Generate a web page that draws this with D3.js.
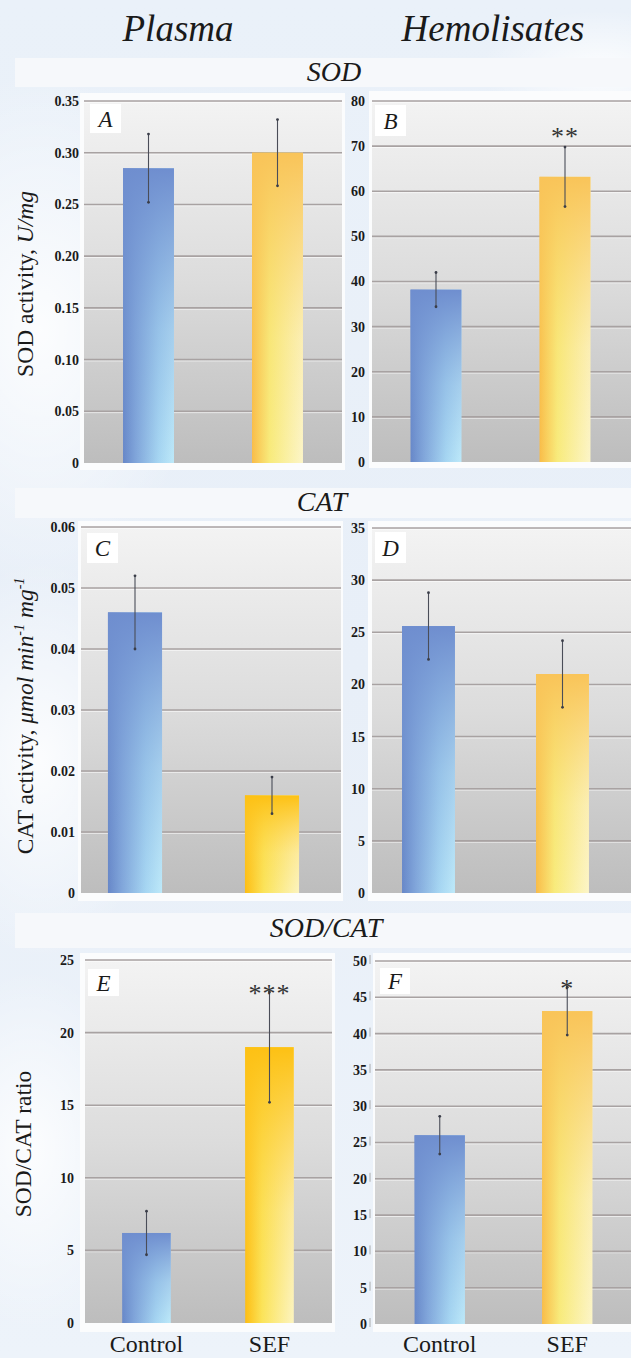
<!DOCTYPE html>
<html>
<head>
<meta charset="utf-8">
<script src="https://cdn.jsdelivr.net/npm/d3@7"></script>
<style>
  html, body { margin: 0; padding: 0; background: #e9f0f8; }
  svg { display: block; }
</style>
</head>
<body>
<svg id="fig" width="631" height="1358"></svg>
<script>
// ---- data -------------------------------------------------------------
const groups = ["Control", "SEF"];
const columnTitles = ["Plasma", "Hemolisates"];
const sectionTitles = ["SOD", "CAT", "SOD/CAT"];
const panelLetters = ["A", "B", "C", "D", "E", "F"];

const sodPlasma = [0.285, 0.300];
const sodPlasmaErr = [0.033, 0.032];
const sodHemo = [38.2, 63.2];
const sodHemoErr = [3.8, 6.6];
const catPlasma = [0.046, 0.016];
const catPlasmaErr = [0.006, 0.003];
const catHemo = [25.6, 21.0];
const catHemoErr = [3.2, 3.2];
const ratioPlasma = [6.2, 19.0];
const ratioPlasmaErr = [1.5, 3.8];
const ratioHemo = [26.0, 43.1];
const ratioHemoErr = [2.6, 3.3];

const sodHemoSig = ["", "**"];
const ratioPlasmaSig = ["", "***"];
const ratioHemoSig = ["", "*"];

const sodPlasmaTicks = [0, 0.05, 0.10, 0.15, 0.20, 0.25, 0.30, 0.35];
const sodHemoTicks = [0, 10, 20, 30, 40, 50, 60, 70, 80];
const catPlasmaTicks = [0, 0.01, 0.02, 0.03, 0.04, 0.05, 0.06];
const catHemoTicks = [0, 5, 10, 15, 20, 25, 30, 35];
const ratioPlasmaTicks = [0, 5, 10, 15, 20, 25];
const ratioHemoTicks = [0, 5, 10, 15, 20, 25, 30, 35, 40, 45, 50];

// ---- pick an installed Times-like face --------------------------------
function pickSerif() {
  const cands = ["Liberation Serif", "Times New Roman", "Times", "Tinos", "DejaVu Serif",
                 "Noto Serif", "FreeSerif", "Nimbus Roman", "Nimbus Roman No9 L"];
  const ctx = document.createElement("canvas").getContext("2d");
  const probe = "Plasma Hemolisates 0.35 SOD/CAT";
  for (const c of cands) {
    ctx.font = `36px monospace`;
    const w0 = ctx.measureText(probe).width;
    ctx.font = `36px "${c}", monospace`;
    const w1 = ctx.measureText(probe).width;
    if (Math.abs(w1 - w0) > 0.5) return `"${c}", serif`;
  }
  return "serif";
}
const serif = pickSerif();

const svg = d3.select("#fig");
const defs = svg.append("defs");

function linGrad(id, x1, y1, x2, y2, stops) {
  const g = defs.append("linearGradient").attr("id", id)
    .attr("x1", x1).attr("y1", y1).attr("x2", x2).attr("y2", y2);
  stops.forEach(s => g.append("stop").attr("offset", s[0])
    .attr("stop-color", s[1]).attr("stop-opacity", s[2] == null ? 1 : s[2]));
}
function radGrad(id, stops) {
  const g = defs.append("radialGradient").attr("id", id);
  stops.forEach(s => g.append("stop").attr("offset", s[0])
    .attr("stop-color", s[1]).attr("stop-opacity", s[2]));
}

linGrad("pageBg", 0, 0, 0, 1, [[0, "#eaf1f9"], [0.5, "#e8eff8"], [1, "#edf3fa"]]);
radGrad("glow", [[0, "#ffffff", 0.85], [1, "#ffffff", 0]]);
linGrad("plotBg", 0, 0, 0, 1, [[0, "#f3f3f3"], [0.5, "#dcdcdc"], [1, "#bdbdbd"]]);

// bar fills: horizontal sheen plus a darker cap fading towards the base
linGrad("blueH", 0, 0, 1, 0, [[0, "#6787c8"], [0.25, "#80a5da"], [0.7, "#a6d6f2"], [1, "#bde9f9"]]);
linGrad("blueV", 0, 0, 0, 1, [[0, "#6f8ecf", 1], [0.55, "#7a9dd6", 0.35], [1, "#7a9dd6", 0]]);
linGrad("orangeH", 0, 0, 1, 0, [[0, "#f9bc48"], [0.35, "#f8eb7c"], [1, "#fcf5c8"]]);
linGrad("orangeV", 0, 0, 0, 1, [[0, "#f9c459", 1], [0.6, "#f9d468", 0.2], [1, "#f9d468", 0]]);
linGrad("goldH", 0, 0, 1, 0, [[0, "#fdbd12"], [0.35, "#fbe45a"], [1, "#fcf4c0"]]);
linGrad("goldV", 0, 0, 0, 1, [[0, "#fdc114", 1], [0.6, "#fdd040", 0.25], [1, "#fdd040", 0]]);

// page background
svg.append("rect").attr("width", 631).attr("height", 1358).attr("fill", "url(#pageBg)");
[[40, 330, 160, 260], [600, 70, 120, 60], [40, 760, 120, 200], [30, 1150, 110, 180]].forEach(([cx, cy, rx, ry]) =>
  svg.append("ellipse").attr("cx", cx).attr("cy", cy).attr("rx", rx).attr("ry", ry).attr("fill", "url(#glow)"));

// column headings
const colX = [178, 493];
columnTitles.forEach((t, i) => svg.append("text")
  .attr("x", colX[i]).attr("y", 41).attr("text-anchor", "middle")
  .attr("font-family", serif).attr("font-style", "italic").attr("font-size", 37)
  .attr("fill", "#1a1a1a").text(t));

// section bands
const bands = [
  { y: 58, h: 29, cx: 334, base: 81 },
  { y: 488, h: 30, cx: 322, base: 511 },
  { y: 913, h: 35, cx: 326, base: 937 }
];
sectionTitles.forEach((t, i) => {
  const b = bands[i];
  svg.append("rect").attr("x", 15).attr("y", b.y).attr("width", 616).attr("height", b.h).attr("fill", "#f6f8fb");
  svg.append("text").attr("x", b.cx).attr("y", b.base).attr("text-anchor", "middle")
    .attr("font-family", serif).attr("font-style", "italic").attr("font-size", 28)
    .attr("fill", "#1a1a1a").text(t);
});

const fmt2 = d => d === 0 ? "0" : d3.format(".2f")(d);
const fmt0 = d3.format("d");

const panels = [
  { vals: sodPlasma, errs: sodPlasmaErr, ticks: sodPlasmaTicks, fmt: fmt2, sig: null,
    frame: [80, 93, 265, 377], x0: 84, x1: 342, yTop: 101, yBot: 463, xr: [84, 342],
    labelX: 79, box: [90, 104, 31, 29], hot: "orange" },
  { vals: sodHemo, errs: sodHemoErr, ticks: sodHemoTicks, fmt: fmt0, sig: sodHemoSig, sigGap: 14,
    frame: [369, 91, 262, 377], x0: 372, x1: 631, yTop: 101, yBot: 462, xr: [371.5, 629.5],
    labelX: 365, box: [375, 105, 31, 31], hot: "orange" },
  { vals: catPlasma, errs: catPlasmaErr, ticks: catPlasmaTicks, fmt: fmt2, sig: null,
    frame: [78, 521, 265, 380], x0: 81, x1: 341, yTop: 527, yBot: 893, xr: [66.5, 340.5],
    labelX: 75, box: [87, 533, 31, 30], hot: "gold" },
  { vals: catHemo, errs: catHemoErr, ticks: catHemoTicks, fmt: fmt0, sig: null,
    frame: [368, 521, 263, 380], x0: 372, x1: 631, yTop: 528, yBot: 893, xr: [361.5, 629.5],
    labelX: 365, box: [375, 532, 31, 31], hot: "orange" },
  { vals: ratioPlasma, errs: ratioPlasmaErr, ticks: ratioPlasmaTicks, fmt: fmt0, sig: ratioPlasmaSig, sigGap: 2,
    frame: [80, 953, 255, 379], x0: 85, x1: 332, yTop: 960, yBot: 1323, xr: [85, 331],
    labelX: 74, box: [88, 969, 31, 27], hot: "gold", cats: true },
  { vals: ratioHemo, errs: ratioHemoErr, ticks: ratioHemoTicks, fmt: fmt0, sig: ratioHemoSig, sigGap: 2,
    frame: [373, 953, 258, 379], x0: 375, x1: 631, yTop: 961, yBot: 1324, xr: [376, 631],
    labelX: 367, box: [380, 968, 30, 26], hot: "orange", cats: true, tickBars: true }
];

panels.forEach((p, pi) => {
  const g = svg.append("g");
  const [fx, fy, fw, fh] = p.frame;
  g.append("rect").attr("x", fx).attr("y", fy).attr("width", fw).attr("height", fh).attr("fill", "#fbfcfd");

  const y = d3.scaleLinear().domain([0, d3.max(p.ticks)]).range([p.yBot, p.yTop]);
  const x = d3.scaleBand().domain(groups).range(p.xr).paddingInner(0.605).paddingOuter(0.3025);

  g.append("rect").attr("x", p.x0).attr("y", p.yTop)
    .attr("width", p.x1 - p.x0).attr("height", p.yBot - p.yTop).attr("fill", "url(#plotBg)");

  // gridlines
  const grid = p.ticks.filter(t => t > 0);
  g.selectAll(null).data(grid).join("line")
    .attr("x1", p.x0).attr("x2", p.x1).attr("y1", d => y(d) + 1.4).attr("y2", d => y(d) + 1.4)
    .attr("stroke", "#ffffff").attr("stroke-opacity", 0.6).attr("stroke-width", 1);
  g.selectAll(null).data(grid).join("line")
    .attr("x1", p.x0).attr("x2", p.x1).attr("y1", d => y(d)).attr("y2", d => y(d))
    .attr("stroke", "#a8a2a2").attr("stroke-width", 1.6);

  // tick labels
  const ax = g.append("g").attr("transform", `translate(${p.labelX},0)`)
    .call(d3.axisLeft(y).tickValues(p.ticks).tickFormat(p.fmt).tickSize(0).tickPadding(0));
  ax.select(".domain").remove();
  ax.attr("font-family", serif);
  ax.selectAll("text").attr("font-family", serif).attr("font-weight", "bold")
    .attr("font-size", 14).attr("fill", "#1a1a1a");
  if (p.tickBars) {
    g.selectAll(null).data(p.ticks).join("line")
      .attr("x1", p.labelX + 3).attr("x2", p.labelX + 3)
      .attr("y1", d => y(d) - 6).attr("y2", d => y(d) + 3)
      .attr("stroke", "#9a9a9a").attr("stroke-width", 0.8);
  }

  // bars
  const hot = p.hot;
  groups.forEach((grp, i) => {
    const bx = x(grp), bw = x.bandwidth(), top = y(p.vals[i]);
    const base = i === 0 ? "blue" : hot;
    g.append("rect").attr("x", bx).attr("y", top).attr("width", bw).attr("height", p.yBot - top)
      .attr("fill", `url(#${base}H)`);
    g.append("rect").attr("x", bx).attr("y", top).attr("width", bw).attr("height", p.yBot - top)
      .attr("fill", `url(#${base}V)`);
  });

  // error bars
  groups.forEach((grp, i) => {
    const cx = x(grp) + x.bandwidth() / 2;
    const hi = y(p.vals[i] + p.errs[i]), lo = y(p.vals[i] - p.errs[i]);
    g.append("line").attr("x1", cx).attr("x2", cx).attr("y1", hi).attr("y2", lo)
      .attr("stroke", "#4a4d58").attr("stroke-width", 1.1);
    [hi, lo].forEach(v => g.append("circle").attr("cx", cx).attr("cy", v).attr("r", 1.4).attr("fill", "#3a3d48"));
    if (p.sig && p.sig[i]) {
      g.append("text").attr("x", cx).attr("y", hi - p.sigGap + 12).attr("text-anchor", "middle")
        .attr("font-family", serif).attr("font-size", 26).attr("fill", "#333")
        .attr("letter-spacing", 1).text(p.sig[i]);
    }
  });

  // panel letter
  const [lx, ly, lw, lh] = p.box;
  g.append("rect").attr("x", lx).attr("y", ly).attr("width", lw).attr("height", lh).attr("fill", "#ffffff");
  g.append("text").attr("x", lx + lw / 2).attr("y", ly + lh / 2 + 8).attr("text-anchor", "middle")
    .attr("font-family", serif).attr("font-style", "italic").attr("font-size", 23)
    .attr("fill", "#1a1a1a").text(panelLetters[pi]);

  // category labels
  if (p.cats) {
    groups.forEach(grp => g.append("text")
      .attr("x", x(grp) + x.bandwidth() / 2).attr("y", 1352).attr("text-anchor", "middle")
      .attr("font-family", serif).attr("font-size", 24).attr("fill", "#1a1a1a").text(grp));
  }
});

// y-axis titles
function yTitle(cx, cy, parts) {
  const t = svg.append("text").attr("transform", `translate(${cx},${cy}) rotate(-90)`)
    .attr("text-anchor", "middle").attr("font-family", serif).attr("font-size", 23.5).attr("fill", "#1a1a1a");
  parts.forEach(pt => {
    const s = t.append("tspan").text(pt.t);
    if (pt.i) s.attr("font-style", "italic");
    if (pt.sup) s.attr("font-size", 14).attr("dy", -9);
    if (pt.down) s.attr("dy", 9);
  });
}
yTitle(33, 284, [{ t: "SOD activity, " }, { t: "U/mg", i: true }]);
yTitle(33, 716, [{ t: "CAT activity, " }, { t: "μmol min", i: true }, { t: "-1", i: true, sup: true },
  { t: " mg", i: true, down: true }, { t: "-1", i: true, sup: true }]);
yTitle(31, 1144, [{ t: "SOD/CAT ratio" }]);
</script>
</body>
</html>
